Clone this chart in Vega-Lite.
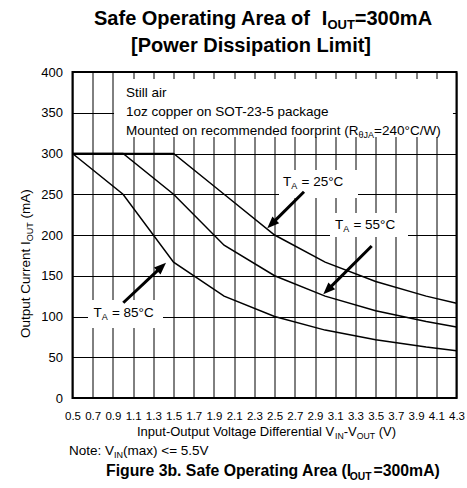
{
  "$schema": "https://vega.github.io/schema/vega-lite/v6.json",
  "width": 384,
  "height": 326,
  "autosize": {"type": "none"},
  "padding": {"left": 72.5, "top": 72, "right": 10.5, "bottom": 90},
  "background": "white",
  "config": {
    "font": "Liberation Sans",
    "view": {"stroke": "#000", "strokeWidth": 2},
    "axis": {"grid": true, "gridColor": "#000", "gridWidth": 1, "gridOpacity": 1, "ticks": false, "domain": false, "labelColor": "#000", "labelFont": "Liberation Sans", "labelFlush": false}
  },
  "datasets": {
    "curves": [
      {"t": 25, "v": 0.5, "i": 300}, {"t": 25, "v": 1.5, "i": 300}, {"t": 25, "v": 2.0, "i": 250}, {"t": 25, "v": 2.5, "i": 200}, {"t": 25, "v": 3.0, "i": 166.7}, {"t": 25, "v": 3.5, "i": 142.9}, {"t": 25, "v": 4.0, "i": 125}, {"t": 25, "v": 4.3, "i": 116.3},
      {"t": 55, "v": 0.5, "i": 300}, {"t": 55, "v": 1.0, "i": 300}, {"t": 55, "v": 1.5, "i": 250}, {"t": 55, "v": 2.0, "i": 187.5}, {"t": 55, "v": 2.5, "i": 150}, {"t": 55, "v": 3.0, "i": 125}, {"t": 55, "v": 3.5, "i": 107.1}, {"t": 55, "v": 4.0, "i": 93.8}, {"t": 55, "v": 4.3, "i": 87.2},
      {"t": 85, "v": 0.5, "i": 300}, {"t": 85, "v": 1.0, "i": 250}, {"t": 85, "v": 1.5, "i": 166.7}, {"t": 85, "v": 2.0, "i": 125}, {"t": 85, "v": 2.5, "i": 100}, {"t": 85, "v": 3.0, "i": 83.3}, {"t": 85, "v": 3.5, "i": 71.4}, {"t": 85, "v": 4.0, "i": 62.5}, {"t": 85, "v": 4.3, "i": 58.1}
    ],
    "boxes": [
      {"name": "note", "v": 0.911, "v2": 4.265, "i": 320.2, "i2": 391.4},
      {"name": "25", "v": 2.5435, "v2": 3.3253, "i": 245.4, "i2": 279.8},
      {"name": "55", "v": 3.0482, "v2": 3.82, "i": 197.5, "i2": 227.0},
      {"name": "85", "v": 0.6534, "v2": 1.3956, "i": 85.9, "i2": 120.2}
    ],
    "shafts": [
      {"t": 25, "v": 2.791, "i": 253.1, "v2": 2.484, "i2": 215.2},
      {"t": 55, "v": 3.4608, "i": 186.5, "v2": 3.0379, "i2": 134.2},
      {"t": 85, "v": 1.0027, "i": 116.9, "v2": 1.3675, "i2": 159.3}
    ],
    "heads": [
      {"t": 25, "v": 2.4277, "i": 208.2},
      {"t": 55, "v": 2.9819, "i": 127.2},
      {"t": 85, "v": 1.4253, "i": 166.0}
    ],
    "texts": [
      {"v": 1.0294, "i": 369.3, "txt": "Still air", "kind": "body"},
      {"v": 1.0294, "i": 346.0, "txt": "1oz copper on SOT-23-5 package", "kind": "body"},
      {"v": 1.0294, "i": 323.3, "txt": "Mounted on recommended foorprint (R", "kind": "body"},
      {"v": 3.3312, "i": 319.6, "txt": "θJA", "kind": "sub"},
      {"v": 3.4846, "i": 323.3, "txt": "=240°C/W)", "kind": "body"},
      {"v": 2.5831, "i": 260.1, "txt": "T", "kind": "body"},
      {"v": 2.6642, "i": 256.4, "txt": "A", "kind": "sub"},
      {"v": 2.7661, "i": 260.1, "txt": "= 25°C", "kind": "body"},
      {"v": 3.0977, "i": 207.4, "txt": "T", "kind": "body"},
      {"v": 3.1788, "i": 203.7, "txt": "A", "kind": "sub"},
      {"v": 3.2802, "i": 207.4, "txt": "= 55°C", "kind": "body"},
      {"v": 0.7078, "i": 100.0, "txt": "T", "kind": "body"},
      {"v": 0.789, "i": 96.3, "txt": "A", "kind": "sub"},
      {"v": 0.8904, "i": 100.0, "txt": "= 85°C", "kind": "body"},
      {"v": 0.4654, "i": -69.9, "txt": "Note: V", "kind": "body"},
      {"v": 0.9107, "i": -73.6, "txt": "IN", "kind": "sub"},
      {"v": 0.9997, "i": -69.9, "txt": "(max) <= 5.5V", "kind": "body"},
      {"v": 1.1383, "i": -46.6, "txt": "Input-Output Voltage Differential V", "kind": "xt"},
      {"v": 3.0977, "i": -50.3, "txt": "IN", "kind": "xs"},
      {"v": 3.1837, "i": -46.6, "txt": "-V", "kind": "xt"},
      {"v": 3.3124, "i": -50.3, "txt": "OUT", "kind": "xs"},
      {"v": 3.5301, "i": -46.6, "txt": "(V)", "kind": "xt"},
      {"v": 0.0745, "i": 73.6, "txt": "Output Current I", "kind": "yt"},
      {"v": 0.1042, "i": 192.4, "txt": "OUT", "kind": "ys"},
      {"v": 0.0745, "i": 220.3, "txt": "(mA)", "kind": "yt"},
      {"v": 0.7128, "i": 457.7, "txt": "Safe Operating Area of", "kind": "tt"},
      {"v": 2.967, "i": 457.7, "txt": "I", "kind": "tt"},
      {"v": 3.0224, "i": 452.8, "txt": "OUT", "kind": "ts"},
      {"v": 3.2936, "i": 457.7, "txt": "=300mA", "kind": "tt"},
      {"v": 1.0789, "i": 424.5, "txt": "[Power Dissipation Limit]", "kind": "tt"},
      {"v": 0.8315, "i": -95.7, "txt": "Figure 3b. Safe Operating Area (I", "kind": "ft"},
      {"v": 3.244, "i": -100.0, "txt": "OUT", "kind": "fs"},
      {"v": 3.4787, "i": -95.7, "txt": "=300mA)", "kind": "ft"}
    ]
  },
  "encoding": {
    "x": {
      "field": "v", "type": "quantitative",
      "scale": {"domain": [0.5, 4.3], "nice": false, "zero": false},
      "axis": {"values": [0.5, 0.7, 0.9, 1.1, 1.3, 1.5, 1.7, 1.9, 2.1, 2.3, 2.5, 2.7, 2.9, 3.1, 3.3, 3.5, 3.7, 3.9, 4.1, 4.3], "format": ".1f", "labelFontSize": 11.5, "labelPadding": 12, "labelOverlap": false, "title": null}
    },
    "y": {
      "field": "i", "type": "quantitative",
      "scale": {"domain": [0, 400], "nice": false},
      "axis": {"values": [0, 50, 100, 150, 200, 250, 300, 350, 400], "labelFontSize": 13, "labelPadding": 10, "labelOverlap": false, "title": null}
    }
  },
  "layer": [
    {"data": {"name": "boxes"}, "mark": {"type": "rect", "fill": "white", "strokeWidth": 0}, "encoding": {"x2": {"field": "v2"}, "y2": {"field": "i2"}}},
    {"data": {"name": "curves"}, "mark": {"type": "line", "color": "#000", "strokeWidth": 1.5}, "encoding": {"detail": {"field": "t"}}},
    {"data": {"name": "shafts"}, "mark": {"type": "rule", "color": "#000", "strokeWidth": 3}, "encoding": {"x2": {"field": "v2"}, "y2": {"field": "i2"}}},
    {"data": {"name": "heads"}, "transform": [{"filter": "datum.t != 85"}], "mark": {"type": "point", "shape": "M0,0L-0.4,1L0.4,1Z", "size": 576, "filled": true, "color": "#000", "opacity": 1, "strokeWidth": 0, "angle": 225}},
    {"data": {"name": "heads"}, "transform": [{"filter": "datum.t == 85"}], "mark": {"type": "point", "shape": "M0,0L-0.4,1L0.4,1Z", "size": 576, "filled": true, "color": "#000", "opacity": 1, "strokeWidth": 0, "angle": 47}},
    {"data": {"name": "texts"}, "transform": [{"filter": "datum.kind == 'body'"}], "mark": {"type": "text", "align": "left", "baseline": "alphabetic", "fontSize": 13.5, "color": "#000"}, "encoding": {"text": {"field": "txt"}}},
    {"data": {"name": "texts"}, "transform": [{"filter": "datum.kind == 'sub'"}], "mark": {"type": "text", "align": "left", "baseline": "alphabetic", "fontSize": 9, "color": "#000"}, "encoding": {"text": {"field": "txt"}}},
    {"data": {"name": "texts"}, "transform": [{"filter": "datum.kind == 'xt'"}], "mark": {"type": "text", "align": "left", "baseline": "alphabetic", "fontSize": 13, "color": "#000"}, "encoding": {"text": {"field": "txt"}}},
    {"data": {"name": "texts"}, "transform": [{"filter": "datum.kind == 'xs'"}], "mark": {"type": "text", "align": "left", "baseline": "alphabetic", "fontSize": 8.7, "color": "#000"}, "encoding": {"text": {"field": "txt"}}},
    {"data": {"name": "texts"}, "transform": [{"filter": "datum.kind == 'yt'"}], "mark": {"type": "text", "align": "left", "baseline": "alphabetic", "fontSize": 13.5, "angle": 270, "color": "#000"}, "encoding": {"text": {"field": "txt"}}},
    {"data": {"name": "texts"}, "transform": [{"filter": "datum.kind == 'ys'"}], "mark": {"type": "text", "align": "left", "baseline": "alphabetic", "fontSize": 9, "angle": 270, "color": "#000"}, "encoding": {"text": {"field": "txt"}}},
    {"data": {"name": "texts"}, "transform": [{"filter": "datum.kind == 'tt'"}], "mark": {"type": "text", "align": "left", "baseline": "alphabetic", "fontSize": 20, "fontWeight": "bold", "color": "#000"}, "encoding": {"text": {"field": "txt"}}},
    {"data": {"name": "texts"}, "transform": [{"filter": "datum.kind == 'ts'"}], "mark": {"type": "text", "align": "left", "baseline": "alphabetic", "fontSize": 13, "fontWeight": "bold", "color": "#000"}, "encoding": {"text": {"field": "txt"}}},
    {"data": {"name": "texts"}, "transform": [{"filter": "datum.kind == 'ft'"}], "mark": {"type": "text", "align": "left", "baseline": "alphabetic", "fontSize": 15.8, "fontWeight": "bold", "color": "#000"}, "encoding": {"text": {"field": "txt"}}},
    {"data": {"name": "texts"}, "transform": [{"filter": "datum.kind == 'fs'"}], "mark": {"type": "text", "align": "left", "baseline": "alphabetic", "fontSize": 10.3, "fontWeight": "bold", "color": "#000"}, "encoding": {"text": {"field": "txt"}}}
  ]
}
